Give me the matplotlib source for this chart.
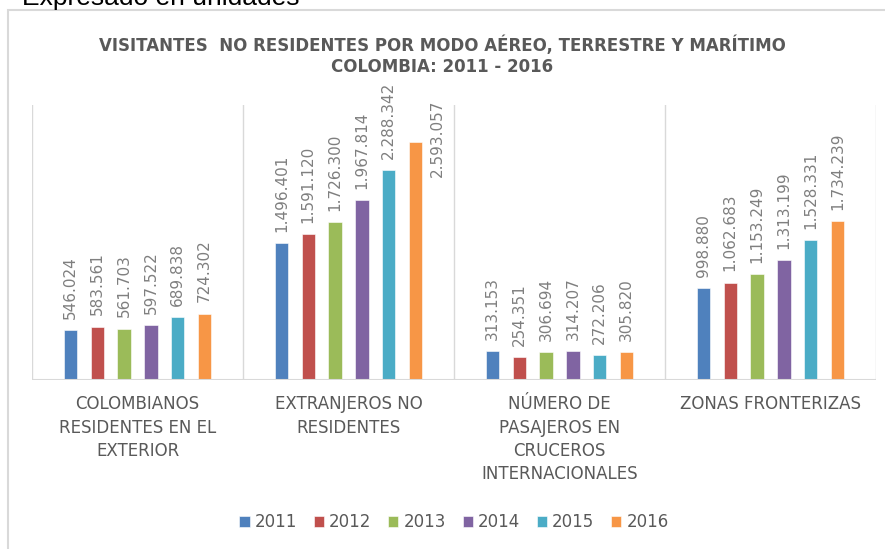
import numpy as np
import matplotlib.pyplot as plt
from matplotlib.patches import Rectangle

categories = ["COLOMBIANOS\nRESIDENTES EN EL\nEXTERIOR",
              "EXTRANJEROS NO\nRESIDENTES",
              "NÚMERO DE\nPASAJEROS EN\nCRUCEROS\nINTERNACIONALES",
              "ZONAS FRONTERIZAS"]
years = ["2011", "2012", "2013", "2014", "2015", "2016"]
values = {
    "2011": [546024, 1496401, 313153, 998880],
    "2012": [583561, 1591120, 254351, 1062683],
    "2013": [561703, 1726300, 306694, 1153249],
    "2014": [597522, 1967814, 314207, 1313199],
    "2015": [689838, 2288342, 272206, 1528331],
    "2016": [724302, 2593057, 305820, 1734239],
}
colors = ["#4F81BD", "#C0504D", "#9BBB59", "#8064A2", "#4BACC6", "#F79646"]


def fmt(v):
    return f"{v:,}".replace(",", ".")


fig = plt.figure(figsize=(8.85, 5.49), dpi=100)
W, H = 885, 549

# outer chart border
fig.add_artist(Rectangle((8 / W, -0.05), 1.1, 1 - 10 / H + 0.05,
                         transform=fig.transFigure, fill=False,
                         edgecolor="#d9d9d9", lw=1.5))

fig.text(22 / W, 1 - 5 / H, "Expresado en unidades", fontsize=19,
         family="Liberation Sans", va="baseline", ha="left", color="black")

fig.text(0.5, 1 - 45 / H, "VISITANTES  NO RESIDENTES POR MODO AÉREO, TERRESTRE Y MARÍTIMO",
         ha="center", va="center", fontsize=12, fontweight="bold", color="#595959")
fig.text(0.5, 1 - 67 / H, "COLOMBIA: 2011 - 2016",
         ha="center", va="center", fontsize=12, fontweight="bold", color="#595959")

ax = fig.add_axes([32 / W, 1 - 380 / H, (876 - 32) / W, (380 - 105) / H])
x = np.arange(len(categories))
step = 0.127
bw = 0.063
for i, y in enumerate(years):
    pos = x + (i - 2.5) * step
    ax.bar(pos, values[y], width=bw, color=colors[i], label=y,
           edgecolor="white", linewidth=0.4, zorder=3)
    for j, v in enumerate(values[y]):
        if y == "2016" and j == 1:
            ax.text(pos[j] + 0.104, 3054000, fmt(v), rotation=90, ha="center",
                    va="top", fontsize=11, color="#7f7f7f", clip_on=False)
        else:
            ax.annotate(fmt(v), (pos[j], v), xytext=(0, 8), textcoords="offset points",
                        rotation=90, ha="center", va="bottom", fontsize=11,
                        color="#7f7f7f", annotation_clip=False)

ax.set_xlim(-0.5, 3.5)
ax.set_ylim(0, 3000000)
for b in np.arange(-0.5, 4, 1):
    ax.axvline(b, color="#d9d9d9", lw=1, zorder=1)
ax.axhline(0, color="#d9d9d9", lw=1.5, zorder=4)
for s in ax.spines.values():
    s.set_visible(False)
ax.set_yticks([])
ax.set_xticks(x)
ax.set_xticklabels(categories, fontsize=12, color="#595959", linespacing=1.38, va="top")
ax.tick_params(axis="x", length=0, pad=11)

ax.legend(loc="center", bbox_to_anchor=(0.5, (380 - 522) / 275), ncol=6, frameon=False,
          fontsize=12, handlelength=0.62, handleheight=0.62, handletextpad=0.3,
          columnspacing=1.0, labelcolor="#595959")

fig.savefig("out.png", dpi=100)
